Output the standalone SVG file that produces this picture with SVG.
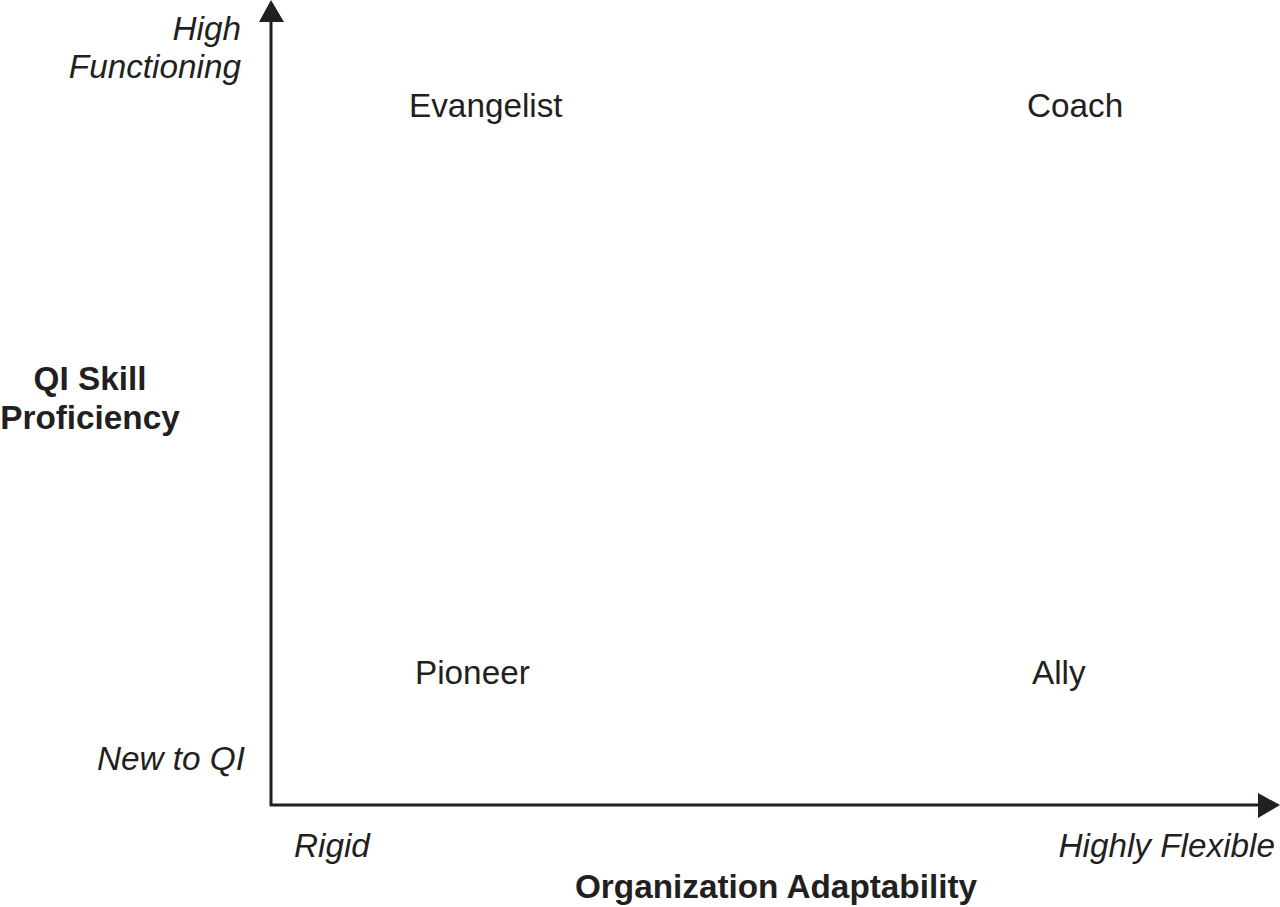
<svg xmlns="http://www.w3.org/2000/svg" width="1280" height="907" viewBox="0 0 1280 907">
<style>
text{font-family:"Liberation Sans",Arial,sans-serif;font-size:33.3px;fill:#231f20}
.it{font-style:italic}
.b{font-weight:bold}
.ax{stroke:#231f20;stroke-width:3;fill:none}
.ah{fill:#231f20}
</style>
<rect width="1280" height="907" fill="#fff"/>
<g id="axes">
<polyline class="ax" points="271,20 271,805 1260,805"/>
<polygon class="ah" points="271,0 259,22 284,22"/>
<polygon class="ah" points="1280,805 1258,793 1258,818"/>
</g>
<g id="y-labels">
<text class="it" x="241" y="40" text-anchor="end">High</text>
<text class="it" x="241" y="78" text-anchor="end">Functioning</text>
<text class="it" x="245" y="770" text-anchor="end">New to QI</text>
<text class="b" x="90" y="390" text-anchor="middle">QI Skill</text>
<text class="b" x="90" y="429" text-anchor="middle">Proficiency</text>
</g>
<g id="x-labels">
<text class="it" x="294" y="857">Rigid</text>
<text class="it" x="1275" y="857" text-anchor="end">Highly Flexible</text>
<text class="b" x="776" y="898" text-anchor="middle">Organization Adaptability</text>
</g>
<g id="evangelist"><text x="409" y="117">Evangelist</text></g>
<g id="coach"><text x="1027" y="117">Coach</text></g>
<g id="pioneer"><text x="415" y="684">Pioneer</text></g>
<g id="ally"><text x="1032" y="684">Ally</text></g>
</svg>
